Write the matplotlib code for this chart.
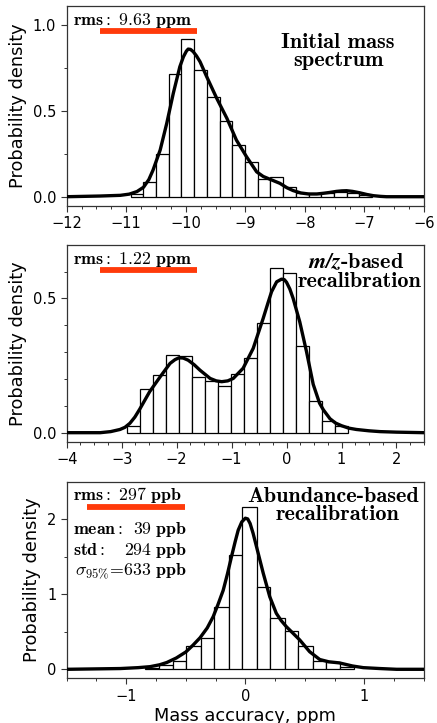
import numpy as np
import matplotlib
matplotlib.use("Agg")
import matplotlib.pyplot as plt
from matplotlib.ticker import MultipleLocator, FormatStrFormatter

plt.rcParams['mathtext.fontset'] = 'cm'
plt.rcParams['font.family'] = ['DejaVu Sans']

# ---------------- data ----------------
# Panel 1: initial mass spectrum
p1_edges = [-10.927, -10.713, -10.500, -10.286, -10.073, -9.859, -9.646, -9.432,
            -9.219, -9.005, -8.792, -8.578, -8.365, -8.151, -7.938, -7.724,
            -7.511, -7.297, -7.084, -6.870]
p1_heights = [0.015, 0.087, 0.249, 0.715, 0.918, 0.738, 0.583, 0.443, 0.299,
              0.202, 0.104, 0.115, 0.058, 0.023, 0.016, 0.020, 0.030, 0.023, 0.012]
p1_kde_x = [-12.0, -11.44, -11.1, -10.95, -10.82, -10.71, -10.62, -10.55, -10.43,
            -10.32, -10.21, -10.10, -10.04, -9.99, -9.96, -9.92, -9.875, -9.82,
            -9.76, -9.65, -9.48, -9.31, -9.15, -8.98, -8.81, -8.70, -8.56, -8.42,
            -8.30, -8.20, -8.07, -7.94, -7.80, -7.69, -7.58, -7.47, -7.38, -7.30,
            -7.20, -7.08, -6.96, -6.85, -6.73, -6.63, -6.0]
p1_kde_y = [0.0, 0.004, 0.008, 0.015, 0.03, 0.055, 0.1, 0.155, 0.272, 0.427,
            0.602, 0.757, 0.815, 0.848, 0.86, 0.858, 0.845, 0.82, 0.786, 0.70,
            0.573, 0.457, 0.33, 0.233, 0.145, 0.118, 0.098, 0.078, 0.052, 0.036,
            0.022, 0.016, 0.016, 0.02, 0.025, 0.031, 0.034, 0.035, 0.031, 0.023,
            0.013, 0.006, 0.002, 0.0, 0.0]

# Panel 2: m/z-based recalibration
p2_edges = [-2.909, -2.672, -2.434, -2.197, -1.960, -1.722, -1.485, -1.248, -1.010,
            -0.773, -0.536, -0.298, -0.061, 0.176, 0.414, 0.651, 0.888, 1.126]
p2_heights = [0.026, 0.164, 0.216, 0.290, 0.286, 0.208, 0.193, 0.175, 0.219,
              0.279, 0.407, 0.615, 0.593, 0.323, 0.119, 0.043, 0.025]
p2_kde_x = [-4.0, -3.39, -3.2, -3.03, -2.94, -2.85, -2.76, -2.67, -2.49, -2.30,
            -2.12, -2.03, -1.957, -1.88, -1.79, -1.68, -1.576, -1.39, -1.28, -1.18,
            -1.07, -0.97, -0.79, -0.607, -0.425, -0.34, -0.273, -0.18, -0.09,
            -0.04, 0.0, 0.06, 0.12, 0.24, 0.364, 0.485, 0.6, 0.67, 0.79, 0.89,
            1.0, 1.13, 1.27, 1.5, 1.7, 2.0, 2.5]
p2_kde_y = [0.0, 0.0, 0.004, 0.012, 0.02, 0.035, 0.058, 0.088, 0.153, 0.208,
            0.258, 0.272, 0.279, 0.278, 0.27, 0.253, 0.233, 0.202, 0.193, 0.19,
            0.193, 0.202, 0.24, 0.314, 0.426, 0.482, 0.525, 0.562, 0.572, 0.570,
            0.56, 0.535, 0.50, 0.413, 0.301, 0.18, 0.11, 0.085, 0.052, 0.036,
            0.026, 0.017, 0.012, 0.007, 0.004, 0.002, 0.0]

# Panel 3: abundance-based recalibration
p3_edges = [-0.846, -0.729, -0.611, -0.494, -0.376, -0.259, -0.141, -0.024, 0.094,
            0.211, 0.329, 0.446, 0.564, 0.681, 0.799, 0.916]
p3_heights = [0.013, 0.055, 0.11, 0.31, 0.41, 0.825, 1.52, 2.155, 1.10, 0.678,
              0.505, 0.31, 0.11, 0.10, 0.035]
p3_kde_x = [-1.5, -1.05, -0.90, -0.80, -0.72, -0.66, -0.58, -0.50, -0.44, -0.38,
            -0.32, -0.27, -0.23, -0.186, -0.15, -0.116, -0.085, -0.06, -0.03, 0.0,
            0.02, 0.04, 0.065, 0.094, 0.15, 0.205, 0.26, 0.30, 0.345, 0.40, 0.457,
            0.54, 0.625, 0.70, 0.79, 0.90, 0.99, 1.13, 1.27, 1.5]
p3_kde_y = [0.0, 0.01, 0.022, 0.035, 0.06, 0.09, 0.15, 0.23, 0.32, 0.42, 0.55,
            0.70, 0.86, 1.05, 1.27, 1.50, 1.70, 1.85, 1.96, 2.01, 2.0, 1.94, 1.81,
            1.63, 1.28, 0.966, 0.745, 0.65, 0.566, 0.48, 0.39, 0.234, 0.13, 0.10,
            0.085, 0.044, 0.022, 0.01, 0.0, 0.0]

rms_labels = [r'$\mathbf{rms:}\ 9.63\ \mathbf{ppm}$',
              r'$\mathbf{rms:}\ 1.22\ \mathbf{ppm}$',
              r'$\mathbf{rms:}\ 297\ \mathbf{ppb}$']
titles = [["Initial mass", "spectrum"],
          [r"$\mathbfit{m/z}$-based", "recalibration"],
          ["Abundance-based", "recalibration"]]
stat_names = [r'$\mathbf{mean:}$', r'$\mathbf{std:}$']
stat_values = [r'$39\ \mathbf{ppb}$', r'$294\ \mathbf{ppb}$']
sigma_label = r'$\sigma_{95\%}\!=\!633\ \mathbf{ppb}$'

xlims = [(-12, -6), (-4, 2.5), (-1.5, 1.5)]
ylims = [(-0.054, 1.111), (-0.0335, 0.699), (-0.12, 2.495)]
ymajor = [0.5, 0.5, 1.0]
yminor = [0.25, 0.1, 0.5]

# ---------------- figure ----------------
fig = plt.figure(figsize=(4.37, 7.23), dpi=100)
positions = [[0.1526, 0.7151, 0.8176, 0.2766],
             [0.1526, 0.3891, 0.8176, 0.2720],
             [0.1526, 0.0618, 0.8176, 0.2719]]
edges_all = [p1_edges, p2_edges, p3_edges]
heights_all = [p1_heights, p2_heights, p3_heights]
kx_all = [p1_kde_x, p2_kde_x, p3_kde_x]
ky_all = [p1_kde_y, p2_kde_y, p3_kde_y]
red_span = [(0.093, 0.366), (0.093, 0.366), (0.058, 0.330)]
title_pos = [[(0.76, 0.79), (0.76, 0.70)],
             [(0.81, 0.88), (0.82, 0.788)],
             [(0.747, 0.898), (0.757, 0.805)]]

axes = []
for i in range(3):
    ax = fig.add_axes(positions[i])
    axes.append(ax)
    e = np.array(edges_all[i])
    ax.bar(e[:-1], heights_all[i], width=np.diff(e), align='edge',
           facecolor='white', edgecolor='black', linewidth=0.9, zorder=2)
    ax.plot(kx_all[i], ky_all[i], color='black', lw=2.4, zorder=3,
            solid_joinstyle='round', solid_capstyle='round')
    ax.set_xlim(*xlims[i])
    ax.set_ylim(*ylims[i])
    ax.xaxis.set_major_locator(MultipleLocator(1))
    ax.xaxis.set_minor_locator(MultipleLocator(0.25))
    ax.yaxis.set_major_locator(MultipleLocator(ymajor[i]))
    ax.yaxis.set_minor_locator(MultipleLocator(yminor[i]))
    ax.tick_params(which='major', direction='out', length=4, width=0.8,
                   labelsize=10.5, color='#333333')
    ax.tick_params(which='minor', direction='out', length=2, width=0.7,
                   color='#333333')
    for s in ax.spines.values():
        s.set_linewidth(0.9)
        s.set_color('#333333')
    ax.set_ylabel('Probability density', fontsize=12.8, labelpad=4)

    # rms text with red underline
    ax.text(0.018, 0.905, rms_labels[i], transform=ax.transAxes,
            fontsize=12.8, ha='left', va='baseline', zorder=5)
    ax.plot(list(red_span[i]), [0.873, 0.873], transform=ax.transAxes,
            color='#ff3a0a', lw=4.2, solid_capstyle='butt', zorder=5)

    for (tx, ty), t in zip(title_pos[i], titles[i]):
        ax.text(tx, ty, t, transform=ax.transAxes, fontsize=16,
                family='cmb10', ha='center', va='baseline', zorder=5)

axes[0].yaxis.set_major_formatter(FormatStrFormatter('%.1f'))
axes[1].yaxis.set_major_formatter(FormatStrFormatter('%.1f'))

ax3 = axes[2]
stat_y = [0.732, 0.626, 0.523]
for name, val, y in zip(stat_names, stat_values, stat_y[:2]):
    ax3.text(0.018, y, name, transform=ax3.transAxes, fontsize=12.8,
             ha='left', va='baseline')
    ax3.text(0.336, y, val, transform=ax3.transAxes, fontsize=12.8,
             ha='right', va='baseline')
ax3.text(0.336, stat_y[2], sigma_label, transform=ax3.transAxes, fontsize=12.8,
         ha='right', va='baseline')
ax3.set_xlabel('Mass accuracy, ppm', fontsize=12.8, labelpad=2)

fig.savefig('out.png', dpi=100)
